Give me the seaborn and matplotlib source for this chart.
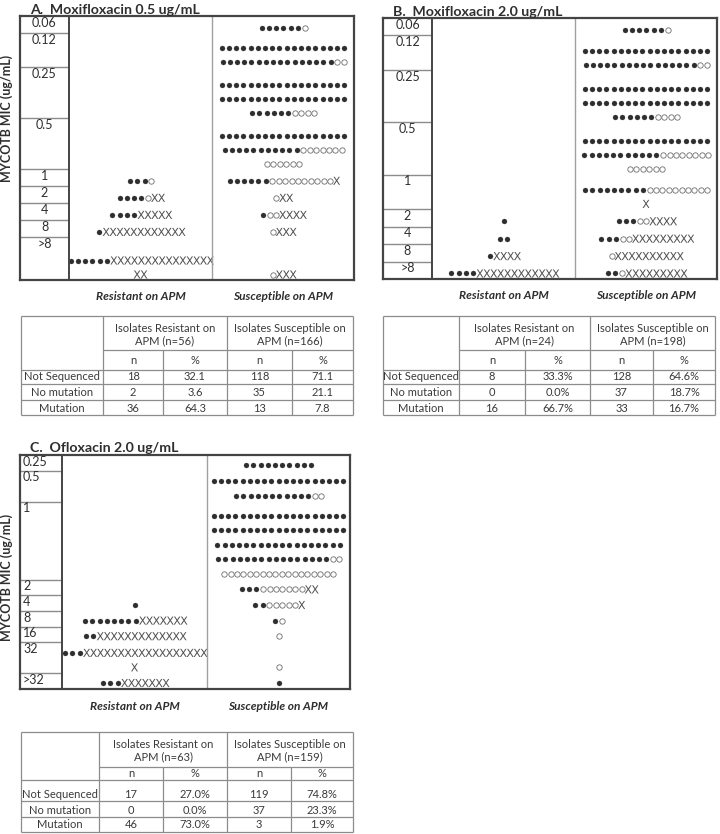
import numpy as np
import pandas as pd
import matplotlib.pyplot as plt
import seaborn as sns

sns.set_style("white")
plt.rcParams['font.family'] = ['Lato', 'DejaVu Sans']

W, H = 720, 834

# --- data: MIC levels and symbol rows (not sequenced, no mutation, mutation) ---
levels_A = ["0.06", "0.12", "0.25", "0.5", "1", "2", "4", "8", ">8"]
res_rows_A = [[], [], [], [], [(3, 1, 0)], [(4, 1, 2)], [(4, 0, 5)], [(1, 0, 12)],
              [(6, 0, 15), (0, 0, 2)]]
sus_rows_A = [[(6, 1, 0)], [(18, 0, 0), (16, 2, 0)], [(18, 0, 0), (18, 0, 0), (6, 4, 0)],
              [(18, 0, 0), (11, 7, 0), (0, 6, 0)], [(6, 10, 1)], [(0, 1, 2)], [(1, 2, 4)],
              [(0, 1, 3)], [(0, 1, 3)]]

levels_B = ["0.06", "0.12", "0.25", "0.5", "1", "2", "4", "8", ">8"]
res_rows_B = [[], [], [], [], [], [(1, 0, 0)], [(2, 0, 0)], [(1, 0, 4)], [(4, 0, 12)]]
sus_rows_B = [[(6, 1, 0)], [(18, 0, 0), (16, 2, 0)], [(18, 0, 0), (18, 0, 0), (6, 4, 0)],
              [(18, 0, 0), (11, 8, 0), (0, 6, 0)], [(9, 10, 0), (0, 0, 1)], [(3, 2, 4)],
              [(3, 2, 9)], [(0, 1, 10)], [(2, 1, 9)]]

levels_C = ["0.25", "0.5", "1", "2", "4", "8", "16", "32", ">32"]
res_rows_C = [[], [], [], [], [(1, 0, 0)], [(8, 0, 7)], [(2, 0, 13)], [(3, 0, 18), (0, 0, 1)],
              [(3, 0, 7)]]
sus_rows_C = [[(10, 0, 0)], [(19, 0, 0), (11, 2, 0)],
              [(19, 0, 0), (19, 0, 0), (18, 0, 0), (16, 2, 0), (0, 18, 0)],
              [(3, 7, 2)], [(2, 5, 1)], [(1, 1, 0)], [(0, 1, 0)], [(0, 1, 0)], [(1, 0, 0)]]

# --- tables ---
row_names = ["Not Sequenced", "No mutation", "Mutation"]
totals_A = (56, 166)
res_n_A, res_pct_A = [18, 2, 36], ["32.1", "3.6", "64.3"]
sus_n_A, sus_pct_A = [118, 35, 13], ["71.1", "21.1", "7.8"]
totals_B = (24, 198)
res_n_B, res_pct_B = [8, 0, 16], ["33.3%", "0.0%", "66.7%"]
sus_n_B, sus_pct_B = [128, 37, 33], ["64.6%", "18.7%", "16.7%"]
totals_C = (63, 159)
res_n_C, res_pct_C = [17, 0, 46], ["27.0%", "0.0%", "73.0%"]
sus_n_C, sus_pct_C = [119, 37, 3], ["74.8%", "23.3%", "1.9%"]

INK = "#2e2e2e"
GRID = "#8c8c8c"
PITCH = {"f": 7.2, "o": 6.4, "x": 6.9}

fig = plt.figure(figsize=(W / 100, H / 100), dpi=100)


def fig_rect(x0, y0, x1, y1):
    return [x0 / W, 1 - y1 / H, (x1 - x0) / W, (y1 - y0) / H]


def ftext(x, y, s, **kw):
    fig.text(x / W, 1 - y / H, s, **kw)


def row_marks(row, cx, y):
    kinds = ["f"] * row[0] + ["o"] * row[1] + ["x"] * row[2]
    w = np.array([PITCH[k] for k in kinds])
    xs = cx - w.sum() / 2 + np.cumsum(w) - w / 2
    return [(x, y, k) for x, k in zip(xs, kinds)]


def draw_panel(box, label_right, divider, levels, band_units, res_rows, sus_rows,
               left_labels=False, pitch=14.0, gap=5.5):
    x0, y0, x1, y1 = box
    ax = fig.add_axes(fig_rect(*box))
    width = x1 - x0
    total = sum(band_units)
    pxu = (y1 - y0) / total
    edges = np.concatenate([[0], np.cumsum(band_units)])
    lc, dv = label_right - x0, divider - x0
    centers = [(lc + dv) / 2, (dv + width) / 2]

    marks = []
    for i, bottom in enumerate(edges[1:]):
        for cx, rows in zip(centers, (res_rows[i], sus_rows[i])):
            for k, row in enumerate(reversed(rows)):
                marks += row_marks(row, cx, bottom - (gap + k * pitch) / pxu)
    df = pd.DataFrame(marks, columns=["x", "y", "kind"])

    sns.scatterplot(data=df[df.kind == "f"], x="x", y="y", marker="o", s=13,
                    color=INK, edgecolor=INK, linewidth=0.2, ax=ax, legend=False)
    sns.scatterplot(data=df[df.kind == "o"], x="x", y="y", marker="o", s=15,
                    facecolor="white", edgecolor="#6e6e6e", linewidth=0.6, ax=ax, legend=False)
    sns.scatterplot(data=df[df.kind == "x"], x="x", y="y", marker=r"$\mathsf{X}$", s=34,
                    color="#505050", edgecolor="none", linewidth=0, ax=ax, legend=False)

    ax.set_xlim(0, width)
    ax.set_ylim(total, 0)
    ax.set_xticks([])
    ax.set_yticks([])
    ax.set_xlabel("")
    ax.set_ylabel("")
    for sp in ax.spines.values():
        sp.set_color("#444444")
        sp.set_linewidth(1.6)

    ax.hlines(edges[1:-1], 0, lc, color=GRID, lw=1.0)
    ax.axvline(lc, color="#444444", lw=1.4)
    ax.axvline(dv, color="#a0a0a0", lw=1.0)
    for lev, top in zip(levels, edges[:-1]):
        if left_labels:
            ax.text(3, top + 0.6 / pxu, lev, ha="left", va="top", fontsize=9, color=INK)
        else:
            ax.text(lc / 2, top + 0.6 / pxu, lev, ha="center", va="top", fontsize=9, color=INK)

    for cx, lab in zip(centers, ["Resistant on APM", "Susceptible on APM"]):
        ax.text(cx, total + 17 / pxu, lab, ha="center", va="center", fontsize=8.6,
                style="italic", weight="bold", color=INK, clip_on=False)
    return ax


def draw_table(xe, ye, totals, res_n, res_pct, sus_n, sus_pct):
    ax = fig.add_axes(fig_rect(xe[0], ye[0], xe[-1], ye[-1]))
    ax.set_xlim(xe[0], xe[-1])
    ax.set_ylim(ye[-1], ye[0])
    ax.axis("off")
    kw = dict(color=GRID, lw=0.9, clip_on=False)
    ax.hlines([ye[0]] + list(ye[2:]), xe[0], xe[-1], **kw)
    ax.hlines(ye[1], xe[1], xe[-1], **kw)
    ax.vlines([xe[0], xe[1], xe[3], xe[5]], ye[0], ye[-1], **kw)
    ax.vlines([xe[2], xe[4]], ye[1], ye[-1], **kw)

    tk = dict(ha="center", va="center", fontsize=8, color="#3a3a3a")
    hy = (ye[0] + ye[1]) / 2 + 1.5
    ax.text((xe[1] + xe[3]) / 2, hy, f"Isolates Resistant on\nAPM (n={totals[0]})",
            linespacing=1.15, **tk)
    ax.text((xe[3] + xe[5]) / 2, hy, f"Isolates Susceptible on\nAPM (n={totals[1]})",
            linespacing=1.15, **tk)
    ny = (ye[1] + ye[2]) / 2
    for j, lab in enumerate(["n", "%", "n", "%"]):
        ax.text((xe[j + 1] + xe[j + 2]) / 2, ny, lab, **tk)
    cols = [row_names, res_n, res_pct, sus_n, sus_pct]
    for i in range(3):
        y = ye[3 + i] - 7
        for j, col in enumerate(cols):
            ax.text((xe[j] + xe[j + 1]) / 2, y, str(col[i]), **tk)


# --- panels ---
draw_panel((20, 16, 354, 280), 69, 212, levels_A, [1, 2, 3, 3, 1, 1, 1, 1, 2.5],
           res_rows_A, sus_rows_A)
draw_panel((383, 18, 717, 279), 432, 575, levels_B, [1, 2, 3, 3, 2, 1, 1, 1, 1],
           res_rows_B, sus_rows_B)
draw_panel((20, 455, 350, 689), 62, 207, levels_C, [1, 2, 5, 1, 1, 1, 1, 2, 1],
           res_rows_C, sus_rows_C, left_labels=True, pitch=14.5, gap=6)

tkw = dict(fontsize=10.2, weight="bold", color=INK, va="baseline", ha="left")
ftext(30, 13.5, "A.  Moxifloxacin 0.5 ug/mL", **tkw)
ftext(393, 15.5, "B.  Moxifloxacin 2.0 ug/mL", **tkw)
ftext(30, 452, "C.  Ofloxacin 2.0 ug/mL", **tkw)

ykw = dict(fontsize=9, weight="bold", color=INK, rotation=90, ha="center", va="center")
ftext(7, 118, "MYCOTB MIC (ug/mL)", **ykw)
ftext(7, 577, "MYCOTB MIC (ug/mL)", **ykw)

# --- tables ---
draw_table([21, 103, 163, 227, 292, 353], [316, 350, 370, 384, 400, 415],
           totals_A, res_n_A, res_pct_A, sus_n_A, sus_pct_A)
draw_table([383, 459, 525, 590, 653, 715], [316, 350, 370, 384, 400, 415],
           totals_B, res_n_B, res_pct_B, sus_n_B, sus_pct_B)
draw_table([21, 99, 163, 227, 291, 353], [732, 767, 780, 801, 817, 832],
           totals_C, res_n_C, res_pct_C, sus_n_C, sus_pct_C)

fig.savefig("out.png", dpi=100)
